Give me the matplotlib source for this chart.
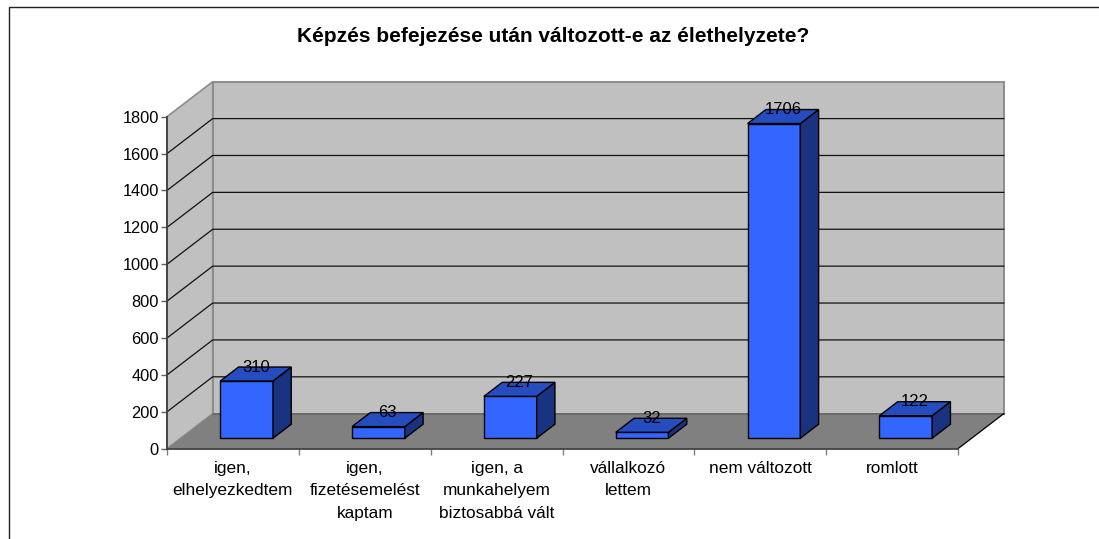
import matplotlib
matplotlib.use("Agg")
import matplotlib.pyplot as plt
from matplotlib.patches import Polygon, Rectangle

title = "Képzés befejezése után változott-e az élethelyzete?"
categories = ["igen,\nelhelyezkedtem", "igen,\nfizetésemelést\nkaptam",
              "igen, a\nmunkahelyem\nbiztosabbá vált", "vállalkozó\nlettem",
              "nem változott", "romlott"]
values = [310, 63, 227, 32, 1706, 122]
y_ticks = [0, 200, 400, 600, 800, 1000, 1200, 1400, 1600, 1800]

W, H = 1099, 539
plt.rcParams["font.family"] = ["Liberation Sans", "DejaVu Sans"]
fig = plt.figure(figsize=(W / 100, H / 100), dpi=100)

# front plane of the oblique 3D box, in pixels
L, R, B, T = 167.0, 958.0, 448.7, 116.7
ax = fig.add_axes([L / W, 1 - B / H, (R - L) / W, (B - T) / H])
n = len(categories)
ax.set_xlim(0, n)
ax.set_ylim(0, y_ticks[-1])
ax.patch.set_visible(False)
for s in ("top", "right"):
    ax.spines[s].set_visible(False)

DX = 45.7 * n / (R - L)              # depth shift in category units
DY = 35.0 * y_ticks[-1] / (B - T)    # depth shift in value units


def P(x, y, z):
    return (x + z * DX, y + z * DY)


def face(pts, fc, ec, lw, zo):
    ax.add_patch(Polygon([P(*p) for p in pts], closed=True, fc=fc, ec=ec, lw=lw,
                         zorder=zo, clip_on=False, joinstyle="miter"))


top = y_ticks[-1]
wall, floor, grey = "#C0C0C0", "#808080", "#8C8C8C"
face([(0, 0, 1), (n, 0, 1), (n, top, 1), (0, top, 1)], wall, grey, 1.4, 1)
face([(0, 0, 0), (0, 0, 1), (0, top, 1), (0, top, 0)], wall, grey, 1.2, 1)
face([(0, 0, 0), (n, 0, 0), (n, 0, 1), (0, 0, 1)], floor, "none", 0, 1.5)

for v in y_ticks[1:-1]:
    ax.plot(*zip(P(0, v, 0), P(0, v, 1), P(n, v, 1)), color="#111111", lw=0.9,
            zorder=2, clip_on=False, solid_joinstyle="miter")
ax.plot(*zip(P(0, 0, 1), P(n, 0, 1)), color="#666666", lw=1.2, zorder=2, clip_on=False)
ax.plot(*zip(P(n, 0, 0), P(n, 0, 1)), color="black", lw=0.9, zorder=2, clip_on=False)

z0, z1 = 0.3, 0.7
for i, v in enumerate(values):
    x0, x1 = i + 0.3, i + 0.7
    face([(x0, 0, z0), (x1, 0, z0), (x1, v, z0), (x0, v, z0)], "#3366FF", "black", 1.0, 3)
    face([(x1, 0, z0), (x1, 0, z1), (x1, v, z1), (x1, v, z0)], "#1A3380", "black", 1.0, 3)
    face([(x0, v, z0), (x1, v, z0), (x1, v, z1), (x0, v, z1)], "#264DBF", "black", 1.0, 3)
    lx = P(i + 0.5, v, 0.5)[0]
    ly = P(i + 0.5, v, z1)[1]
    ax.text(lx, ly, str(v), ha="center", va="center", fontsize=12,
            color="black", zorder=5, clip_on=False)

ax.spines["left"].set(color="#404040", lw=1.3, zorder=2.5)
ax.spines["bottom"].set(color="#404040", lw=1.3, zorder=2.5)
ax.set_yticks(y_ticks)
ax.tick_params(axis="y", length=4.3, width=1, color="#606060", labelsize=11.8, pad=1.5)
ax.set_xticks(range(n + 1))
ax.set_xticklabels([""] * (n + 1))
ax.tick_params(axis="x", length=4.3, width=1, color="#808080")
for i, c in enumerate(categories):
    ax.text(i + 0.5, -12 / (B - T), c, transform=ax.get_xaxis_transform(), ha="center",
            va="top", fontsize=12.4, linespacing=1.62)

fig.text(553 / W, 1 - 36 / H, title, ha="center", va="center", fontsize=15,
         fontweight="bold")
fig.add_artist(Rectangle((8.5 / W, 1 - 560 / H), 1200 / W, (560 - 7) / H,
                         transform=fig.transFigure, fc="none", ec="#222222", lw=1.0))
fig.savefig("out.png", dpi=100)
